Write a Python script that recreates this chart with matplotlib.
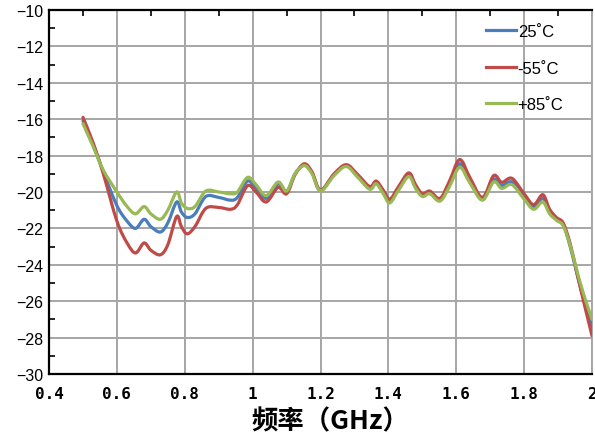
# S-parameter vs frequency at three temperatures (recreated chart)
import matplotlib
matplotlib.use("Agg")
import matplotlib.pyplot as plt
import numpy as np
from matplotlib.path import Path
from matplotlib.patches import PathPatch
from matplotlib.lines import Line2D
from matplotlib.ticker import MultipleLocator, FixedLocator

# --- data ---
freq = [0.50, 0.53, 0.56, 0.60, 0.63, 0.655, 0.68, 0.70, 0.728, 0.75,
        0.776, 0.79, 0.807, 0.83, 0.862, 0.90, 0.935, 0.955, 0.985, 1.01,
        1.04, 1.075, 1.10, 1.125, 1.152, 1.175, 1.20, 1.24, 1.276, 1.31,
        1.345, 1.364, 1.385, 1.404, 1.43, 1.46, 1.48, 1.50, 1.522, 1.552,
        1.58, 1.61, 1.64, 1.677, 1.71, 1.734, 1.764, 1.80, 1.828, 1.855,
        1.875, 1.895, 1.915, 1.935, 1.955, 1.975, 2.0]

t25 = [-16.1, -17.4, -18.9, -20.75, -21.6, -22.0, -21.5, -21.9, -22.2, -21.7,
       -20.55, -21.1, -21.4, -21.2, -20.25, -20.3, -20.45, -20.3, -19.4, -19.8,
       -20.35, -19.55, -20.0, -19.0, -18.52, -18.95, -19.92, -19.05, -18.55, -19.15,
       -19.8, -19.5, -20.0, -20.5, -19.8, -19.05, -19.7, -20.2, -20.05, -20.45,
       -19.55, -18.45, -19.35, -20.35, -19.3, -19.65, -19.45, -20.25, -20.85, -20.35,
       -21.1, -21.5, -21.8, -22.95, -24.45, -25.85, -27.4]

tm55 = [-15.9, -17.3, -19.0, -21.6, -22.8, -23.35, -22.8, -23.2, -23.45, -22.9,
        -21.35, -21.9, -22.3, -21.9, -20.9, -20.85, -20.95, -20.7, -19.65, -20.0,
        -20.55, -19.75, -20.1, -19.05, -18.45, -18.9, -19.9, -19.0, -18.5, -19.05,
        -19.7, -19.4, -19.9, -20.4, -19.7, -18.95, -19.6, -20.1, -19.95, -20.35,
        -19.4, -18.22, -19.2, -20.3, -19.1, -19.47, -19.25, -20.1, -20.7, -20.15,
        -20.95, -21.4, -21.7, -22.8, -24.4, -26.0, -27.9]

tp85 = [-16.25, -17.5, -18.8, -20.0, -20.8, -21.2, -20.8, -21.2, -21.5, -21.0,
        -20.0, -20.6, -20.9, -20.8, -19.95, -20.0, -20.1, -20.0, -19.2, -19.6,
        -20.2, -19.45, -19.95, -19.0, -18.55, -19.0, -19.95, -19.1, -18.6, -19.2,
        -19.85, -19.55, -20.1, -20.6, -19.9, -19.15, -19.8, -20.25, -20.1, -20.5,
        -19.7, -18.65, -19.5, -20.45, -19.45, -19.8, -19.6, -20.4, -20.95, -20.55,
        -21.2, -21.55, -21.85, -22.9, -24.3, -25.6, -27.0]

labels = ["25˚C", "-55˚C", "+85˚C"]
colors = ["#4a7ebb", "#be4b48", "#98b954"]
x_ticks = [0.4, 0.6, 0.8, 1.0, 1.2, 1.4, 1.6, 1.8, 2.0]
x_tick_labels = ["0.4", "0.6", "0.8", "1", "1.2", "1.4", "1.6", "1.8", "2"]


def smooth_path(xs, ys):
    # Excel-style smoothed line: Bezier segments through every data point
    p = np.column_stack([xs, ys]).astype(float)
    p_ext = np.vstack([p[0], p, p[-1]])
    verts = [p[0]]
    codes = [Path.MOVETO]
    for i in range(len(p) - 1):
        p0, p1, p2, p3 = p_ext[i], p_ext[i + 1], p_ext[i + 2], p_ext[i + 3]
        c1 = p1 + (p2 - p0) / 6.0
        c2 = p2 - (p3 - p1) / 6.0
        verts += [c1, c2, p2]
        codes += [Path.CURVE4] * 3
    return Path(verts, codes)


fig = plt.figure(figsize=(5.95, 4.39), dpi=100)
ax = fig.add_axes([0.0824, 0.1458, 0.9126, 0.8292])

handles = []
for vals, lab, col in zip([t25, tm55, tp85], labels, colors):
    patch = PathPatch(smooth_path(freq, vals), facecolor="none", edgecolor=col,
                      lw=2.3, joinstyle="round", capstyle="round", zorder=3)
    ax.add_patch(patch)
    handles.append(Line2D([], [], color=col, lw=2.3, label=lab))

ax.set_xlim(0.4, 2.0)
ax.set_ylim(-30, -10)
ax.xaxis.set_major_locator(FixedLocator(x_ticks))
ax.xaxis.set_minor_locator(MultipleLocator(0.1))
ax.yaxis.set_major_locator(MultipleLocator(2))
ax.yaxis.set_minor_locator(MultipleLocator(1))
ax.set_xticklabels(x_tick_labels)

ax.grid(True, which="major", color="#a6a6a6", lw=1.4)
ax.set_axisbelow(True)

ax.tick_params(which="both", direction="in", top=True, bottom=False,
               left=True, right=False, color="black")
ax.tick_params(which="major", length=0)
ax.tick_params(which="minor", length=4, width=1.2)
ax.tick_params(axis="y", labelsize=11.5, pad=4)
ax.tick_params(axis="x", labelsize=11.5, pad=9)

for t in ax.get_yticklabels():
    t.set_family("Liberation Sans")
for t in ax.get_xticklabels():
    t.set_family("DejaVu Sans Mono")
    t.set_fontweight("bold")

for side in ["left", "bottom", "top"]:
    ax.spines[side].set_color("black")
    ax.spines[side].set_linewidth(1.6)
ax.spines["right"].set_color("#a6a6a6")
ax.spines["right"].set_linewidth(1.4)

ax.set_xlabel("频率（GHz）", family=["Noto Sans CJK SC", "DejaVu Sans"],
              fontsize=19, fontweight="bold")
ax.xaxis.set_label_coords(0.519, -0.128)
ax.xaxis.label.set_verticalalignment("center")

ax.legend(handles=handles, loc="upper right", bbox_to_anchor=(0.975, 1.003),
          frameon=False, handlelength=1.8, handletextpad=0.1, labelspacing=1.3,
          prop={"family": "Liberation Sans", "size": 12})

fig.savefig("out.png", dpi=100)
